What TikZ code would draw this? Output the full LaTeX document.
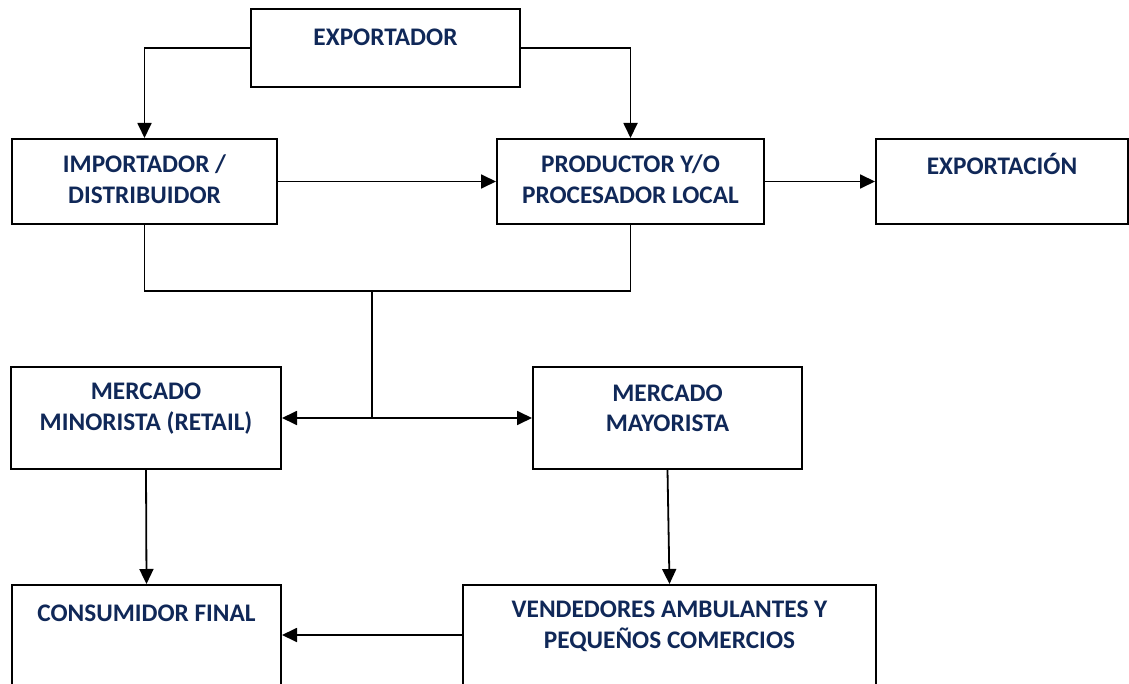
\documentclass[tikz,border=0pt]{standalone}
\usepackage{fontspec}
\setmainfont{Carlito}
\usetikzlibrary{arrows.meta}
\definecolor{navy}{HTML}{102858}
\tikzset{
  box/.style={draw=black, line width=2pt, fill=white, rectangle, inner sep=0pt},
  lbl/.style={text=navy, font=\bfseries\fontsize{25.3}{30.5}\selectfont, align=center, inner sep=0pt, anchor=center},
  conn/.style={draw=black, line width=1.8pt},
  arr/.style={conn, -{Triangle[length=15pt,width=14pt]}}
}
\begin{document}
\begin{tikzpicture}[x=1pt,y=-1pt]
\useasboundingbox (0,0) rectangle (1129,684);
\clip (0,0) rectangle (1129,684);
% boxes
\node[box, minimum width=269pt, minimum height=78pt] (exportador) at (385.5,48) {};
\node[box, minimum width=265pt, minimum height=85pt] (importador) at (144.5,181.5) {};
\node[box, minimum width=267pt, minimum height=85pt] (productor) at (630.5,181.5) {};
\node[box, minimum width=252pt, minimum height=85pt] (exportacion) at (1002,181.5) {};
\node[box, minimum width=270pt, minimum height=102pt] (minorista) at (146,418) {};
\node[box, minimum width=269pt, minimum height=102pt] (mayorista) at (667.5,418) {};
\node[box, minimum width=269pt, minimum height=134pt] (consumidor) at (146.5,652) {};
\node[box, minimum width=413pt, minimum height=134pt] (vendedores) at (669.5,652) {};
% labels
\node[lbl] (t1) at (385.5,37) {EXPORTADOR};
\node[lbl] (t2) at (144.5,179) {IMPORTADOR /\\DISTRIBUIDOR};
\node[lbl] (t3) at (630.5,179) {PRODUCTOR Y/O\\PROCESADOR LOCAL};
\node[lbl] (t4) at (1002,164) {EXPORTACIÓN};
\node[lbl] (t5) at (146,408.5) {MERCADO\\MINORISTA (RETAIL)};
\node[lbl] (t6) at (667.5,408.5) {MERCADO\\MAYORISTA};
\node[lbl] (t7) at (146.5,613) {CONSUMIDOR FINAL};
\node[lbl] (t8) at (669.5,626.5) {VENDEDORES AMBULANTES Y\\PEQUEÑOS COMERCIOS};
% connectors
\coordinate (bus) at (372,291);
\coordinate (junc) at (372,418);
\draw[arr] (exportador.west) -| (importador.north);
\draw[arr] (exportador.east) -| (productor.north);
\draw[arr] (importador.east) -- (productor.west);
\draw[arr] (productor.east) -- (exportacion.west);
\draw[conn] (importador.south) |- (bus) -| (productor.south);
\draw[conn] (bus) -- (junc);
\draw[arr] (junc) -- (minorista.east);
\draw[arr] (junc) -- (mayorista.west);
\draw[arr] (minorista.south) -- (consumidor.north);
\draw[arr] (mayorista.south) -- (vendedores.north);
\draw[arr] ([yshift=17pt]vendedores.west) -- ([yshift=17pt]consumidor.east);
\end{tikzpicture}
\end{document}
